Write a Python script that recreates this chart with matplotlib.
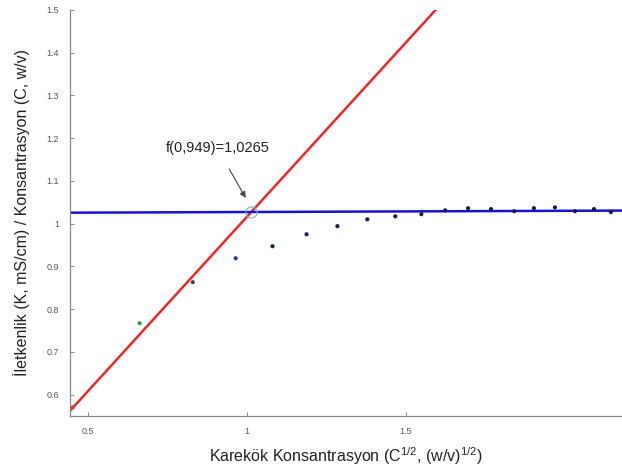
import numpy as np
import matplotlib
matplotlib.use("Agg")
import matplotlib.pyplot as plt

plt.rcParams['font.family'] = ['Liberation Sans', 'DejaVu Sans']
plt.rcParams['mathtext.fontset'] = 'custom'
plt.rcParams['mathtext.rm'] = 'Liberation Sans'

# measured points: sqrt(C) vs K/C
x = [0.453, 0.663, 0.830, 0.965, 1.081, 1.188, 1.285, 1.379, 1.467, 1.549,
     1.624, 1.696, 1.768, 1.841, 1.903, 1.969, 2.032, 2.092, 2.145]
y = [0.570, 0.767, 0.863, 0.919, 0.947, 0.975, 0.994, 1.010, 1.017, 1.022,
     1.031, 1.036, 1.034, 1.029, 1.036, 1.038, 1.029, 1.034, 1.027]
pt_colors = ['#d04040', '#3a9a3a', '#404040', '#2838a8'] + ['#1c1c48'] * 15

# fitted lines (end points)
red_x = [0.444, 1.594]
red_y = [0.562, 1.5]
blue_x = [0.444, 2.2]
blue_y = [1.0255, 1.0305]

cross_x, cross_y = 1.0125, 1.027
label = "f(0,949)=1,0265"

fig = plt.figure(figsize=(6.22, 4.70), dpi=100)
ax = fig.add_axes([0.1125, 0.115, 0.8875, 0.864])

ax.plot(red_x, red_y, color='#e8282a', lw=1.8, zorder=2)
ax.plot(blue_x, blue_y, color='#1414d2', lw=1.8, zorder=2)
ax.scatter(x, y, s=9, c=pt_colors, zorder=3, linewidths=0)
ax.plot(cross_x, cross_y, 'o', ms=8, mfc='none', mec='#7fb0c0', mew=0.8, zorder=4)

ax.annotate(label, xy=(cross_x - 0.016, cross_y + 0.033), xytext=(0.908, 1.176),
            fontsize=10.5, ha='center', va='center', color='#222222',
            arrowprops=dict(arrowstyle='-|>', color='#444444', lw=0.8,
                            mutation_scale=9, shrinkA=9, shrinkB=0))

ax.set_xlim(0.444, 2.18)
ax.set_ylim(0.55, 1.5)
ax.set_xticks([0.5, 1, 1.5])
ax.set_xticklabels(['0.5', '1', '1.5'])
ax.set_yticks([0.6, 0.7, 0.8, 0.9, 1.0, 1.1, 1.2, 1.3, 1.4, 1.5])
ax.set_yticklabels(['0.6', '0.7', '0.8', '0.9', '1', '1.1', '1.2', '1.3', '1.4', '1.5'])
ax.tick_params(direction='in', length=3, width=0.6, colors='#777777',
               labelsize=6.5, labelcolor='#555555', pad=8)
for s in ['top', 'right']:
    ax.spines[s].set_visible(False)
for s in ['left', 'bottom']:
    ax.spines[s].set_color('#888888')
    ax.spines[s].set_linewidth(0.9)

ax.set_ylabel("İletkenlik (K, mS/cm) / Konsantrasyon (C, w/v)", fontsize=11.5,
              color='#222222', labelpad=12)
ax.set_xlabel("Karekök Konsantrasyon (C$^{1/2}$, (w/v)$^{1/2}$)", fontsize=11.5,
              color='#222222', labelpad=7)

fig.savefig("out.png", dpi=100)
